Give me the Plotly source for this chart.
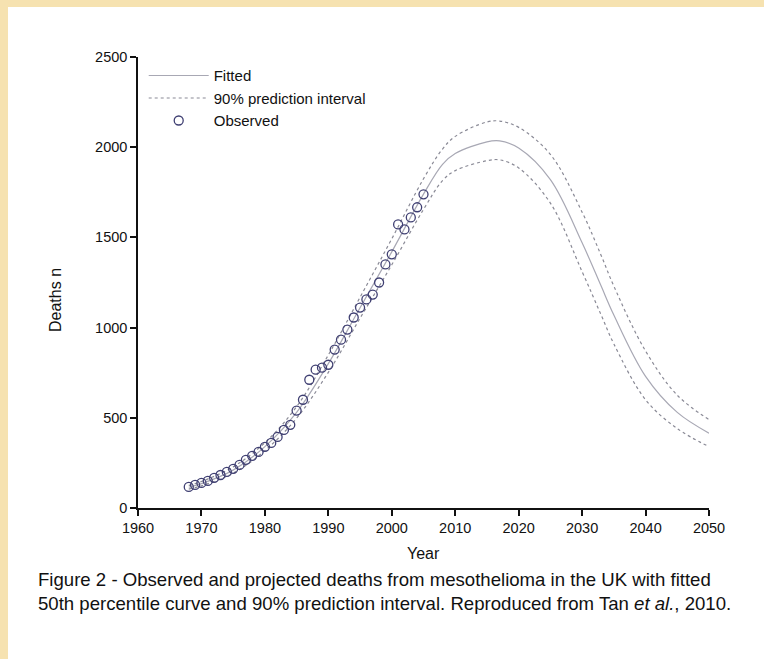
import plotly.graph_objects as go

# ---- data ----
obs_years = list(range(1968, 2006))
obs_deaths = [117, 128, 139, 150, 167, 183, 200, 217, 239, 267,
              289, 311, 339, 361, 394, 433, 461, 540, 600, 711,
              767, 778, 794, 878, 933, 989, 1056, 1111, 1156, 1183,
              1250, 1350, 1406, 1572, 1544, 1611, 1667, 1739]

fit_years = [1968, 1970, 1975, 1980, 1985, 1990, 1995, 2000, 2005, 2008,
             2010, 2015, 2017, 2020, 2025, 2030, 2033, 2035, 2040, 2045, 2050]
fitted = [115, 135, 210, 340, 530, 800, 1110, 1420, 1740, 1905,
          1965, 2030, 2035, 1995, 1820, 1470, 1230, 1070, 730, 530, 415]
upper = [125, 147, 228, 362, 562, 848, 1168, 1492, 1825, 1990,
         2060, 2140, 2145, 2110, 1960, 1640, 1400, 1230, 870, 625, 490]
lower = [105, 123, 193, 318, 498, 752, 1052, 1348, 1655, 1815,
         1870, 1925, 1930, 1885, 1690, 1310, 1070, 910, 600, 440, 340]

x_ticks = list(range(1960, 2051, 10))
y_ticks = [0, 500, 1000, 1500, 2000, 2500]

caption = ("Figure 2 - Observed and projected deaths from mesothelioma in the UK with fitted<br>"
           "50th percentile curve and 90% prediction interval. Reproduced from Tan <i>et al.</i>, 2010.")

FONT = "Liberation Sans, Arial, sans-serif"

fig = go.Figure()
fig.add_trace(go.Scatter(x=fit_years, y=fitted, mode="lines", name="Fitted",
                         line=dict(color="#a8a8b4", width=1.2, shape="spline")))
fig.add_trace(go.Scatter(x=fit_years, y=upper, mode="lines", name="90% prediction interval",
                         line=dict(color="#8a8a96", width=1.2, dash="dot", shape="spline")))
fig.add_trace(go.Scatter(x=fit_years, y=lower, mode="lines", showlegend=False,
                         line=dict(color="#8a8a96", width=1.2, dash="dot", shape="spline")))
fig.add_trace(go.Scatter(x=obs_years, y=obs_deaths, mode="markers", name="Observed",
                         marker=dict(symbol="circle-open", size=9, color="#3f3f72",
                                     line=dict(width=1.3, color="#3f3f72"))))

W, H = 764, 659
L, R, T, B = 138, 55, 57, 151
pw, ph = W - L - R, H - T - B

def px(xp):
    return (xp - L) / pw

def py(yp):
    return (H - B - yp) / ph

fig.update_layout(
    width=W, height=H,
    margin=dict(l=L, r=R, t=T, b=B),
    paper_bgcolor="#f6e2b0",
    plot_bgcolor="rgba(0,0,0,0)",
    font=dict(family=FONT, size=14, color="#111111"),
    showlegend=True,
    legend=dict(x=0.01, y=0.995, xanchor="left", yanchor="top",
                bgcolor="rgba(0,0,0,0)", font=dict(size=15, family=FONT),
                tracegroupgap=0, itemwidth=60),
    xaxis=dict(range=[1960, 2050], tickvals=x_ticks, ticktext=[str(v) for v in x_ticks],
               showgrid=False, zeroline=False, showline=True, linecolor="#111111",
               linewidth=1.5, ticks="outside", ticklen=6, tickwidth=1.5,
               tickcolor="#111111", tickfont=dict(size=14.5, family=FONT)),
    yaxis=dict(range=[0, 2500], tickvals=y_ticks, ticktext=[str(v) for v in y_ticks],
               showgrid=False, zeroline=False, showline=True, linecolor="#111111",
               linewidth=1.5, ticks="outside", ticklen=6, tickwidth=1.5,
               tickcolor="#111111", tickfont=dict(size=14.5, family=FONT)),
    shapes=[dict(type="rect", xref="paper", yref="paper",
                 x0=px(8), x1=px(W + 5), y0=py(H + 5), y1=py(7),
                 fillcolor="white", line=dict(width=0), layer="below")],
    annotations=[
        dict(text="Year", xref="paper", yref="paper", x=px(423), y=py(553),
             showarrow=False, font=dict(size=16, family=FONT), xanchor="center", yanchor="middle"),
        dict(text="Deaths n", xref="paper", yref="paper", x=px(55), y=py(300),
             showarrow=False, textangle=-90, font=dict(size=16, family=FONT),
             xanchor="center", yanchor="middle"),
        dict(text=caption, xref="paper", yref="paper", x=px(36), y=py(591),
             showarrow=False, align="left", font=dict(size=18.6, family=FONT),
             xanchor="left", yanchor="middle"),
    ],
)

fig.write_html("out.html")
